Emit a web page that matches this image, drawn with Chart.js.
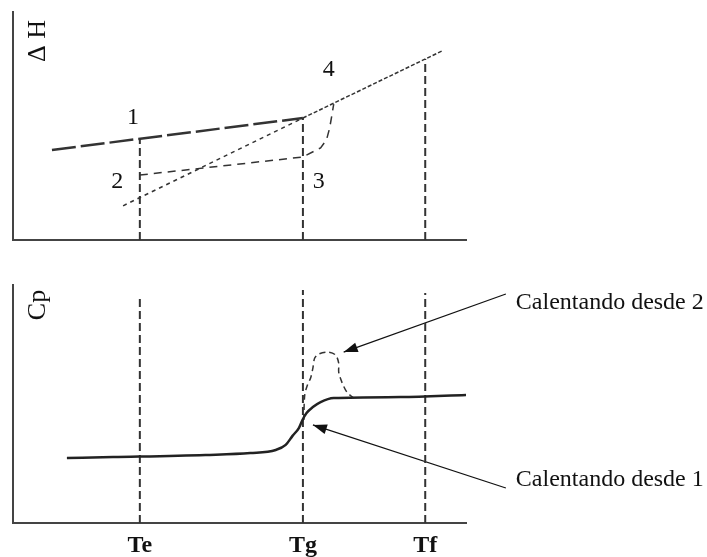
<!DOCTYPE html>
<html>
<head>
<meta charset="utf-8">
<script src="https://cdn.jsdelivr.net/npm/chart.js@4.4.1/dist/chart.umd.min.js"></script>
<style>
  body { margin: 0; background: #fff; }
  #wrap { position: relative; width: 707px; height: 557px; }
  canvas { position: absolute; left: 0; }
</style>
</head>
<body>
<div id="wrap">
  <canvas id="chart-dh" width="707" height="260" style="top:0"></canvas>
  <canvas id="chart-cp" width="707" height="297" style="top:260px"></canvas>
</div>
<script>
// ---- data (arbitrary temperature / property units) ----
const tempLabels = ['Te', 'Tg', 'Tf'];
const tempValues = [28, 64, 91];

// upper panel: enthalpy vs temperature
const glassLine    = [{ x: 8.6, y: 39.5 }, { x: 64, y: 53.5 }];
const liquidLine   = [{ x: 64, y: 53.5 }, { x: 95, y: 83.2 }];
const liquidExtrap = [{ x: 24.3, y: 15 }, { x: 64, y: 53.5 }];
const agedPath     = [{ x: 28, y: 28.5 }, { x: 64, y: 36.4 }, { x: 67.9, y: 40.4 }, { x: 69.2, y: 43.9 },
                      { x: 69.9, y: 49.1 }, { x: 70.4, y: 54.8 }, { x: 70.8, y: 59.6 }];
const dhDropTops   = [44.4, 53.5, 79.4];   // where the vertical markers meet the curves
const stateLabels  = ['1', '2', '3', '4'];
const stateX       = [26.5, 23, 67.5, 69.7];
const stateY       = [53.5, 25.4, 25.4, 74.6];

// lower panel: heat capacity vs temperature
const cpFrom1 = [{ x: 11.9, y: 27.3 }, { x: 22.1, y: 27.7 }, { x: 42.5, y: 28.6 }, { x: 52.4, y: 29.4 },
                 { x: 58.0, y: 30.7 }, { x: 60.2, y: 32.8 }, { x: 61.7, y: 36.6 }, { x: 63.1, y: 39.9 },
                 { x: 63.9, y: 43.3 }, { x: 64.8, y: 46.2 }, { x: 66.2, y: 48.7 }, { x: 67.9, y: 50.8 },
                 { x: 70.8, y: 52.5 }, { x: 85.6, y: 52.9 }, { x: 100, y: 53.8 }];
const cpFrom2 = [{ x: 64.2, y: 43.3 }, { x: 64.4, y: 53.8 }, { x: 65.0, y: 58.0 }, { x: 65.7, y: 60.9 },
                 { x: 66.2, y: 65.1 }, { x: 66.6, y: 69.3 }, { x: 67.5, y: 71.0 }, { x: 69.5, y: 71.8 },
                 { x: 71.2, y: 70.6 }, { x: 71.9, y: 67.2 }, { x: 71.9, y: 63.4 }, { x: 72.6, y: 59.2 },
                 { x: 73.7, y: 55.0 }, { x: 75.2, y: 52.5 }];
const cpDropTops = [95.8, 97.9, 96.6];
const notes      = ['Calentando desde 2', 'Calentando desde 1'];
const noteX      = [111, 111];
const noteY      = [92.4, 18.1];
const arrowFrom  = [{ x: 108.8, y: 96.2 }, { x: 108.8, y: 14.7 }];
const arrowTo    = [{ x: 73, y: 71.8 }, { x: 66.2, y: 41.2 }];

// ---- helpers ----
const INK = '#333';
const SERIF = '"Liberation Serif", "DejaVu Serif", serif';

function line(data, width, dash, extra) {
    return Object.assign({ data, borderColor: INK, borderWidth: width, borderDash: dash, pointRadius: 0, fill: false, tension: 0 }, extra || {});
}

function dropLines(tops) {
    return tempValues.map((t, i) => line([{ x: t, y: 0 }, { x: t, y: tops[i] }], 2, [8, 4]));
}

function hiddenAxis(dir) {
    return {
        type: 'linear', min: 0, max: 100,
        grid: { display: false },
        border: { display: true, color: '#444', width: 2 },
        ticks: { display: false },
        afterFit: s => { if (dir === 'x') s.height = 0; else s.width = 0; }
    };
}

// text + arrowheads drawn through the chart's scales
function annotPlugin(items) {
    return {
        id: 'annot',
        afterDatasetsDraw(chart) {
            const ctx = chart.ctx, xs = chart.scales.x, ys = chart.scales.y;
            ctx.save();
            chart.data.datasets.forEach((ds, i) => {
                if (!ds.arrow) return;
                const pts = chart.getDatasetMeta(i).data;
                const a = pts[pts.length - 2], b = pts[pts.length - 1];
                const ang = Math.atan2(b.y - a.y, b.x - a.x);
                ctx.fillStyle = '#111';
                ctx.beginPath();
                ctx.moveTo(b.x, b.y);
                ctx.lineTo(b.x - 14 * Math.cos(ang) + 5 * Math.sin(ang), b.y - 14 * Math.sin(ang) - 5 * Math.cos(ang));
                ctx.lineTo(b.x - 14 * Math.cos(ang) - 5 * Math.sin(ang), b.y - 14 * Math.sin(ang) + 5 * Math.cos(ang));
                ctx.closePath();
                ctx.fill();
            });
            items.forEach(it => {
                const px = xs.getPixelForValue(it.x), py = ys.getPixelForValue(it.y);
                ctx.font = it.font;
                ctx.fillStyle = '#111';
                ctx.textAlign = it.align || 'center';
                ctx.textBaseline = it.baseline || 'middle';
                ctx.translate(px, py);
                if (it.rotate) ctx.rotate(it.rotate);
                ctx.fillText(it.text, 0, 0);
                ctx.setTransform(1, 0, 0, 1, 0, 0);
            });
            ctx.restore();
        }
    };
}

const baseOptions = {
    responsive: false, animation: false, devicePixelRatio: 1, events: [],
    plugins: { legend: { display: false }, tooltip: { enabled: false } }
};

// ---- upper chart: ΔH ----
const dhItems = stateLabels.map((t, i) => ({ text: t, x: stateX[i], y: stateY[i], font: '24px ' + SERIF }));
dhItems.push({ text: 'Δ H', x: 7.1, y: 87.3, font: '26px ' + SERIF, rotate: -Math.PI / 2, baseline: 'alphabetic' });

new Chart(document.getElementById('chart-dh'), {
    type: 'line',
    data: {
        datasets: [
            line(glassLine, 2.5, [24, 5]),
            line(liquidLine, 1.5, [4, 2]),
            line(liquidExtrap, 1.5, [4, 4]),
            line(agedPath, 1.5, [8, 6]),
            ...dropLines(dhDropTops)
        ]
    },
    options: Object.assign({}, baseOptions, {
        layout: { padding: { left: 13, top: 12, right: 241, bottom: 20 } },
        scales: { x: hiddenAxis('x'), y: hiddenAxis('y') }
    }),
    plugins: [annotPlugin(dhItems)]
});

// ---- lower chart: Cp ----
const cpItems = notes.map((t, i) => ({ text: t, x: noteX[i], y: noteY[i], font: '24px ' + SERIF, align: 'left' }));
cpItems.push({ text: 'Cp', x: 7.1, y: 91.6, font: '26px ' + SERIF, rotate: -Math.PI / 2, baseline: 'alphabetic' });

const cpX = hiddenAxis('x');
cpX.ticks = {
    display: true, autoSkip: false, maxRotation: 0, padding: 8, color: '#111',
    font: { family: SERIF, size: 24, weight: 'bold' },
    callback: (v, i) => tempLabels[i]
};
cpX.afterBuildTicks = s => { s.ticks = tempValues.map(v => ({ value: v })); };
cpX.grid = { display: false, drawTicks: false };
cpX.afterFit = s => { s.height = 34; };

new Chart(document.getElementById('chart-cp'), {
    type: 'line',
    data: {
        datasets: [
            line(cpFrom1, 2.5, [], { cubicInterpolationMode: 'monotone', borderColor: '#222' }),
            line(cpFrom2, 1.5, [6, 4], { tension: 0.3 }),
            ...dropLines(cpDropTops),
            ...arrowFrom.map((p, i) => line([p, arrowTo[i]], 1.2, [], { clip: false, arrow: true, borderColor: '#111' }))
        ]
    },
    options: Object.assign({}, baseOptions, {
        layout: { padding: { left: 13, top: 25, right: 241, bottom: 0 } },
        scales: { x: cpX, y: hiddenAxis('y') }
    }),
    plugins: [annotPlugin(cpItems)]
});
</script>
</body>
</html>
